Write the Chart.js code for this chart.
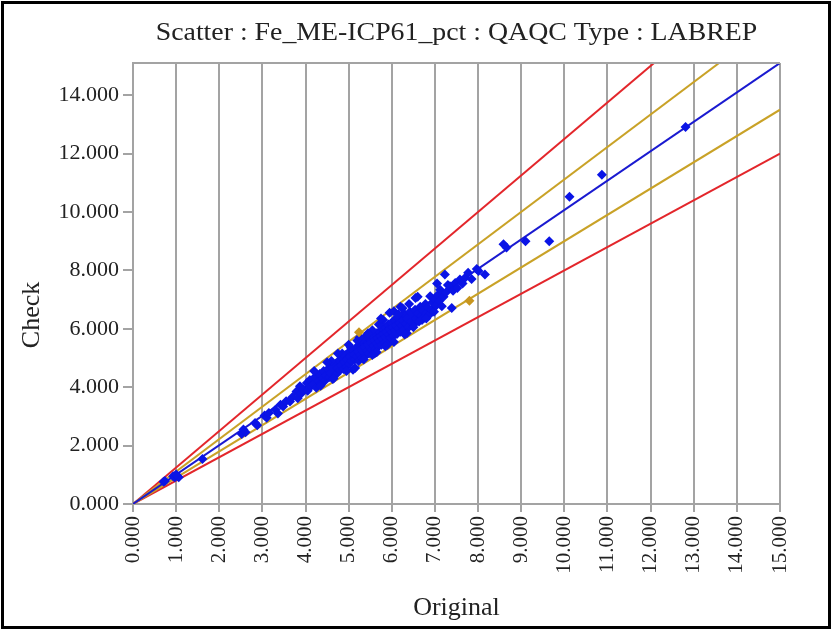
<!DOCTYPE html>
<html>
<head>
<meta charset="utf-8">
<script src="https://cdn.jsdelivr.net/npm/chart.js@4/dist/chart.umd.min.js"></script>
<style>
  html, body { margin: 0; padding: 0; background: #fff; }
  #wrap { width: 832px; height: 629px; position: relative; }
</style>
</head>
<body>
<div id="wrap"><canvas id="chart"></canvas></div>
<script>
// LABREP pairs (Original vs Check)
const originalVals = [
  0.71, 0.74, 0.93, 0.97, 1.02, 1.06, 1.00, 1.61, 2.52, 2.56,
  2.61, 2.83, 2.88, 3.05, 3.10, 3.15, 3.30, 3.36, 3.42, 3.48,
  3.55, 3.64, 3.70, 3.79, 3.82, 3.87, 3.90, 3.95,
  4.03, 4.05, 4.10, 4.12, 4.18, 4.22, 4.25, 4.30, 4.33, 4.36,
  4.40, 4.42, 4.45, 4.48, 4.52, 4.55, 4.58, 4.60, 4.63, 4.66,
  4.70, 4.72, 4.75, 4.78, 4.80, 4.83, 4.85, 4.88, 4.90, 4.92,
  4.95, 4.97, 5.00, 5.02, 5.04, 5.06,
  5.08, 5.10, 5.12, 5.14, 5.15, 5.17, 5.19, 5.21, 5.23, 5.25,
  5.27, 5.29, 5.31, 5.33, 5.35, 5.37, 5.39, 5.41, 5.43, 5.45,
  5.47, 5.49, 5.50, 5.52, 5.54, 5.56, 5.58, 5.60, 5.62, 5.64,
  5.65, 5.67, 5.69, 5.71, 5.72, 5.74, 5.76, 5.78, 5.79, 5.81,
  5.83, 5.85, 5.86, 5.88, 5.90, 5.92, 5.93, 5.95, 5.97, 5.99,
  6.00, 6.02, 6.04, 6.06, 6.08, 6.10, 6.12, 6.14, 6.16, 6.18,
  6.20, 6.22, 6.24, 6.26, 6.28, 6.30, 6.33, 6.36, 6.39, 6.42,
  6.45, 6.48, 6.51, 6.54, 6.57, 6.60, 6.63, 6.66, 6.69, 6.72,
  6.75, 6.78, 6.81, 6.84, 6.87, 6.89, 6.92, 6.95, 6.98, 7.00,
  7.03, 7.06, 7.10, 7.12, 7.16, 7.20, 7.23, 7.26, 7.30, 7.35,
  7.39, 7.42, 7.47, 7.52, 7.58, 7.64, 7.70, 7.77, 7.85, 7.97,
  8.01, 8.16, 8.59, 8.66, 9.10, 9.65, 10.12, 10.87, 12.81,
  5.55, 5.80, 5.95, 6.05, 6.25, 6.40, 6.55, 5.40, 5.70, 6.15,
  5.05, 5.30, 5.60, 5.90, 6.35, 6.70, 4.60, 4.85, 5.20, 5.75,
  4.20, 4.50, 4.75, 5.00, 5.25, 5.45, 5.65, 5.85, 6.05, 6.30,
  6.50, 6.80, 4.35, 4.65, 4.95, 5.35, 5.55, 6.20, 6.60, 7.05
];
const checkVals = [
  0.76, 0.79, 0.95, 0.92, 0.98, 0.92, 1.01, 1.54, 2.40, 2.55,
  2.46, 2.77, 2.70, 3.03, 2.95, 3.12, 3.23, 3.10, 3.40, 3.34,
  3.52, 3.51, 3.66, 3.85, 3.62, 4.03, 3.78, 3.92,
  4.14, 3.88, 4.25, 4.02, 4.10, 4.35, 3.98, 4.20, 4.45, 4.12,
  4.30, 4.55, 4.22, 4.40, 4.62, 4.35, 4.48, 4.70, 4.28, 4.55,
  4.80, 4.45, 4.66, 4.92, 4.58, 4.75, 5.00, 4.62, 4.85, 5.10,
  4.70, 4.95, 5.20, 4.80, 5.05, 4.90,
  5.28, 4.60, 5.12, 4.95, 4.66, 5.35, 5.05, 5.22, 4.90, 5.45,
  5.10, 5.30, 5.00, 5.55, 5.20, 5.38, 5.08, 5.60, 5.25, 5.45,
  5.15, 5.65, 5.35, 5.52, 5.28, 5.75, 5.42, 5.60, 5.30, 5.85,
  5.50, 5.68, 5.40, 5.90, 5.58, 5.75, 5.45, 6.00, 5.65, 5.82,
  5.52, 6.05, 5.72, 5.90, 5.60, 6.15, 5.80, 5.98, 5.68, 6.20,
  5.88, 6.05, 5.75, 6.30, 5.95, 6.12, 5.82, 6.38, 6.02, 6.20,
  5.90, 6.45, 6.10, 6.28, 5.98, 6.50, 6.18, 6.35, 6.05, 6.58,
  6.25, 6.42, 6.15, 6.65, 6.35, 6.52, 6.25, 6.75, 6.45, 6.62,
  6.38, 6.85, 6.55, 6.72, 6.48, 7.11, 6.65, 6.90, 6.58, 7.00,
  6.80, 7.15, 6.95, 7.34, 6.77, 7.10, 7.86, 7.25, 7.50, 7.46,
  6.71, 7.30, 7.57, 7.40, 7.69, 7.55, 7.75, 7.92, 7.70, 8.05,
  7.98, 7.86, 8.89, 8.78, 9.00, 9.00, 10.52, 11.27, 12.91,
  5.95, 6.30, 6.55, 6.60, 6.70, 6.85, 7.05, 5.75, 6.15, 6.50,
  5.35, 5.65, 5.15, 5.45, 5.85, 6.30, 4.90, 5.15, 5.60, 6.35,
  4.55, 4.85, 5.15, 5.45, 5.70, 5.85, 5.20, 5.40, 5.55, 5.80,
  6.05, 6.35, 4.05, 4.30, 4.55, 4.95, 5.10, 6.75, 7.10, 7.55
];

// samples flagged in the second (gold) colour
const flaggedOriginal = [7.80, 5.24];
const flaggedCheck = [6.96, 5.88];

// reference lines: 1:1 fit, +/-10% and +/-20% limits
const lineX = [0, 15];
const fitY = [0, 15.1];
const upper10Y = [0, 16.67];
const lower10Y = [0, 13.5];
const upper20Y = [0, 18.75];
const lower20Y = [0, 12];

const xTicks = [0, 15, 1];   // min, max, step
const yTicks = [0, 15.1, 2];

const SERIF = '"Liberation Serif", "Times New Roman", serif';
const INK = '#222';
const GRID = '#a3a3a3';

const pairs = (xs, ys) => xs.map((x, i) => ({ x: x, y: ys[i] }));

const lineSet = (ys, color) => ({
  data: pairs(lineX, ys),
  showLine: true,
  borderColor: color,
  borderWidth: 2,
  pointRadius: 0,
  fill: false
});

const decorations = {
  id: 'decorations',
  afterDraw(chart) {
    const ctx = chart.ctx;
    const area = chart.chartArea;
    const midX = (area.left + area.right) / 2;
    ctx.save();
    // top edge of the plot frame
    ctx.strokeStyle = GRID;
    ctx.lineWidth = 2;
    ctx.beginPath();
    ctx.moveTo(area.left, area.top);
    ctx.lineTo(area.right, area.top);
    ctx.stroke();

    // outer black border
    ctx.strokeStyle = '#000';
    ctx.lineWidth = 3;
    ctx.strokeRect(2.5, 2.5, chart.width - 5, chart.height - 4);

    ctx.fillStyle = INK;
    ctx.textAlign = 'center';
    ctx.textBaseline = 'alphabetic';
    ctx.font = '26px ' + SERIF;
    ctx.save();
    ctx.translate(midX, 40);
    ctx.scale(1.07, 1);
    ctx.fillText('Scatter : Fe_ME-ICP61_pct : QAQC Type : LABREP', 0, 0);
    ctx.restore();

    ctx.textBaseline = 'middle';
    ctx.fillText('Original', midX, 608);

    ctx.translate(32, 315);
    ctx.rotate(-Math.PI / 2);
    ctx.fillText('Check', 0, 0);
    ctx.restore();
  }
};

new Chart(document.getElementById('chart'), {
  type: 'scatter',
  data: {
    datasets: [
      {
        data: pairs(flaggedOriginal, flaggedCheck),
        pointStyle: 'rectRot',
        pointRadius: 5,
        backgroundColor: '#c8961e',
        borderWidth: 0
      },
      {
        data: pairs(originalVals, checkVals),
        pointStyle: 'rectRot',
        pointRadius: 5,
        backgroundColor: '#0a14e6',
        borderWidth: 0
      },
      lineSet(fitY, '#1a1ad0'),
      lineSet(upper10Y, '#c9a227'),
      lineSet(lower10Y, '#c9a227'),
      lineSet(upper20Y, '#e3262b'),
      lineSet(lower20Y, '#e3262b')
    ]
  },
  options: {
    responsive: true,
    maintainAspectRatio: false,
    devicePixelRatio: 1,
    animation: false,
    layout: {
      padding: { top: 63, right: 52, left: 0, bottom: 0 }
    },
    plugins: {
      legend: { display: false },
      tooltip: { enabled: false },
      title: { display: false }
    },
    scales: {
      x: {
        type: 'linear',
        min: xTicks[0],
        max: xTicks[1],
        afterFit: (scale) => { scale.height = 125; },
        grid: {
          color: GRID,
          lineWidth: 2,
          tickLength: 8,
          tickColor: GRID
        },
        border: { color: GRID, width: 2 },
        ticks: {
          stepSize: xTicks[2],
          autoSkip: false,
          maxRotation: 90,
          minRotation: 90,
          padding: 4,
          color: INK,
          font: { family: SERIF, size: 21 },
          callback: (v) => Number(v).toFixed(3)
        }
      },
      y: {
        type: 'linear',
        min: yTicks[0],
        max: yTicks[1],
        afterFit: (scale) => { scale.width = 133; },
        grid: {
          drawOnChartArea: false,
          drawTicks: true,
          tickLength: 10,
          tickColor: GRID,
          lineWidth: 2
        },
        border: { color: GRID, width: 2 },
        ticks: {
          stepSize: yTicks[2],
          includeBounds: false,
          padding: 4,
          color: INK,
          font: { family: SERIF, size: 22 },
          callback: (v) => Number(v).toFixed(3)
        }
      }
    }
  },
  plugins: [decorations]
});
</script>
</body>
</html>
